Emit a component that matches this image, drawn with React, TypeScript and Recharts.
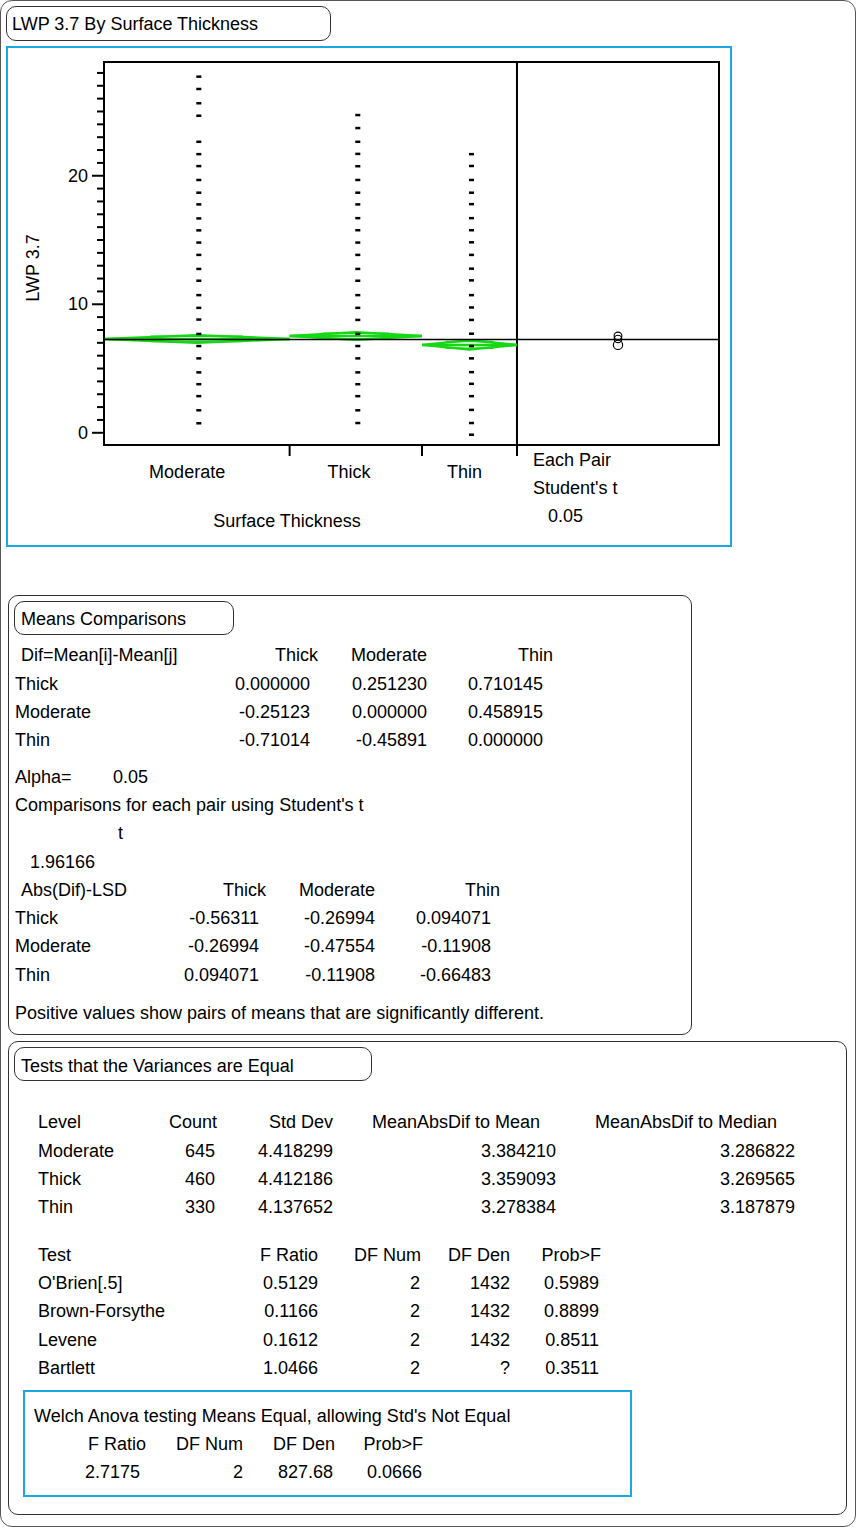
import React from 'react';
import { ComposedChart, XAxis, YAxis, Line, Scatter, ReferenceLine, ReferenceArea } from 'recharts';

// ---------- data ----------
const levels = ['Moderate', 'Thick', 'Thin'];
const counts = [645, 460, 330];
const means = [7.3, 7.53, 6.84];
const ciHalf = [0.29, 0.3, 0.36];

const moderateValues = [0.76, 1.77, 2.87, 3.8, 4.72, 5.81, 6.77, 7.71, 8.83, 9.74, 10.73, 11.85, 12.77, 13.86, 14.82, 15.77, 16.7, 17.79, 18.7, 19.69, 20.77, 21.7, 22.66, 24.69, 25.66, 26.77, 27.73];
const thickValues = [0.78, 1.77, 2.87, 3.8, 4.72, 5.81, 6.77, 7.71, 8.8, 9.74, 10.73, 11.85, 12.77, 13.86, 14.82, 15.78, 16.72, 17.79, 18.7, 19.69, 20.76, 21.72, 22.66, 23.73, 24.74];
const thinValues = [-0.13, 0.78, 1.8, 2.87, 3.83, 4.74, 5.81, 6.77, 7.73, 8.8, 9.77, 10.73, 11.88, 12.79, 13.86, 14.84, 15.78, 16.72, 17.81, 18.7, 19.69, 20.78, 21.7];
const levelValues = [moderateValues, thickValues, thinValues];

const yTicks = [0, 1, 2, 3, 4, 5, 6, 7, 8, 9, 10, 11, 12, 13, 14, 15, 16, 17, 18, 19, 20, 21, 22, 23, 24, 25, 26, 27, 28];
const yMajorTicks = [0, 10, 20];
const yDomain = [-0.95, 28.85];

// Means comparisons
const compOrder = ['Thick', 'Moderate', 'Thin'];
const difMatrix = [
  ['0.000000', '0.251230', '0.710145'],
  ['-0.25123', '0.000000', '0.458915'],
  ['-0.71014', '-0.45891', '0.000000'],
];
const lsdMatrix = [
  ['-0.56311', '-0.26994', '0.094071'],
  ['-0.26994', '-0.47554', '-0.11908'],
  ['0.094071', '-0.11908', '-0.66483'],
];

// Variance tests
const stdDevs = ['4.418299', '4.412186', '4.137652'];
const madMean = ['3.384210', '3.359093', '3.278384'];
const madMedian = ['3.286822', '3.269565', '3.187879'];
const testNames = ["O'Brien[.5]", 'Brown-Forsythe', 'Levene', 'Bartlett'];
const testF = ['0.5129', '0.1166', '0.1612', '1.0466'];
const testDfNum = ['2', '2', '2', '2'];
const testDfDen = ['1432', '1432', '1432', '?'];
const testProb = ['0.5989', '0.8899', '0.8511', '0.3511'];
const welchValues = ['2.7175', '2', '827.68', '0.0666'];

// ---------- derived ----------
const total = counts.reduce((a, b) => a + b, 0);
const starts = counts.map((_, i) => counts.slice(0, i).reduce((a, b) => a + b, 0));
const ends = counts.map((c, i) => starts[i] + c);
const centers = counts.map((c, i) => starts[i] + c / 2);
const COMP_PANEL = 702;
const xMax = total + COMP_PANEL;
const compCenter = total + COMP_PANEL / 2;
const grandMean = means.reduce((s, m, i) => s + m * counts[i], 0) / total;

const CHART_W = 857;
const CHART_H = 560;
const MARGIN = { top: 62, right: 138, left: 44, bottom: 85 };
const plotH = CHART_H - MARGIN.top - MARGIN.bottom - 30;
const pxPerUnit = plotH / (yDomain[1] - yDomain[0]);

const GREEN = '#14d814';
const FONT = '"Liberation Sans", Arial, Helvetica, sans-serif';

const xTicks = [...centers, ...ends];

const YTick = (props: any) => {
  const { x, y, payload } = props;
  const v = payload.value;
  const major = yMajorTicks.includes(v);
  const len = major ? 12 : 7;
  return (
    <g>
      <line x1={x - len} x2={x} y1={y} y2={y} stroke="#000" strokeWidth={2} />
      {major && (
        <text x={x - 16} y={y} dy={6} textAnchor="end" fontSize={18} fontFamily={FONT} fill="#000">
          {v}
        </text>
      )}
    </g>
  );
};

const XTick = (props: any) => {
  const { x, y, payload } = props;
  const v = payload.value;
  const ci = centers.indexOf(v);
  if (ci >= 0) {
    return (
      <text x={x - counts[ci] * 0.015} y={y + 33} textAnchor="middle" fontSize={18} fontFamily={FONT} fill="#000">
        {levels[ci]}
      </text>
    );
  }
  return <line x1={x} x2={x} y1={y} y2={y + 11} stroke="#000" strokeWidth={2} />;
};

const DashShape = (p: any) => <rect x={p.cx - 0.5} y={p.cy - 1} width={5} height={2.5} fill="#000" />;
const CircleShape = (p: any) => (
  <circle cx={p.cx} cy={p.cy} r={p.payload.r * pxPerUnit} fill="none" stroke="#000" strokeWidth={1.2} />
);

const Chart = () => {
  const diamonds = levels.map((_, i) => [
    { x: starts[i], y: means[i] },
    { x: centers[i], y: means[i] + ciHalf[i] },
    { x: ends[i], y: means[i] },
    { x: centers[i], y: means[i] - ciHalf[i] },
    { x: starts[i], y: means[i] },
  ]);
  const meanLines = levels.map((_, i) => [
    { x: starts[i], y: means[i] },
    { x: ends[i], y: means[i] },
  ]);
  const overlap = levels.map((_, i) => {
    const h = ciHalf[i] / Math.SQRT2;
    const w = counts[i] * 0.25;
    return [
      { x: centers[i] - w, y: means[i] + h },
      { x: centers[i] + w, y: means[i] + h },
      { x: centers[i], y: null },
      { x: centers[i] - w, y: means[i] - h },
      { x: centers[i] + w, y: means[i] - h },
    ];
  });
  const circles = levels.map((_, i) => ({ x: compCenter, y: means[i], r: ciHalf[i] }));

  return (
    <ComposedChart width={CHART_W} height={CHART_H} margin={MARGIN}>
      <XAxis
        type="number"
        dataKey="x"
        domain={[0, xMax]}
        ticks={xTicks}
        interval={0}
        tickSize={0}
        tickMargin={0}
        tickLine={false}
        tick={<XTick />}
        axisLine={{ stroke: '#000', strokeWidth: 2 }}
        height={30}
        allowDataOverflow
      />
      <YAxis
        type="number"
        dataKey="y"
        domain={yDomain}
        ticks={yTicks}
        interval={0}
        tickSize={0}
        tickMargin={0}
        tickLine={false}
        tick={<YTick />}
        axisLine={{ stroke: '#000', strokeWidth: 2 }}
        width={60}
        allowDataOverflow
      />
      <ReferenceArea x1={0} x2={xMax} y1={yDomain[0]} y2={yDomain[1]} fill="none" stroke="#000" strokeWidth={2} fillOpacity={0} />
      <ReferenceLine x={total} stroke="#000" strokeWidth={2} />
      {levels.map((l, i) => (
        <Scatter key={'pts' + l} data={levelValues[i].map((v) => ({ x: centers[i], y: v }))} dataKey="y" shape={<DashShape />} isAnimationActive={false} />
      ))}
      {levels.map((l, i) => (
        <Line key={'dia' + l} data={diamonds[i]} dataKey="y" stroke={GREEN} strokeWidth={2.5} dot={false} isAnimationActive={false} type="linear" />
      ))}
      {levels.map((l, i) => (
        <Line key={'ov' + l} data={overlap[i]} dataKey="y" stroke={GREEN} strokeWidth={1.5} dot={false} isAnimationActive={false} type="linear" connectNulls={false} />
      ))}
      {levels.map((l, i) => (
        <Line key={'mean' + l} data={meanLines[i]} dataKey="y" stroke={GREEN} strokeWidth={2.5} dot={false} isAnimationActive={false} type="linear" />
      ))}
      <ReferenceLine y={grandMean} stroke="#000" strokeWidth={1.5} />
      <Scatter data={circles} dataKey="y" shape={<CircleShape />} isAnimationActive={false} />
    </ComposedChart>
  );
};

// ---------- text helpers ----------
const T = ({ x, y, children, align = 'left' }: any) => {
  const style: any = { position: 'absolute', top: y - 10, lineHeight: '20px', fontSize: 18, whiteSpace: 'pre', color: '#000' };
  if (align === 'left') style.left = x;
  else if (align === 'right') {
    style.left = x - 400;
    style.width = 400;
    style.textAlign = 'right';
  } else {
    style.left = x - 200;
    style.width = 400;
    style.textAlign = 'center';
  }
  return <div style={style}>{children}</div>;
};

const Box = ({ x, y, w, h, r = 10, color = '#333', width = 1 }: any) => (
  <div
    style={{
      position: 'absolute',
      left: x,
      top: y,
      width: w,
      height: h,
      border: `${width}px solid ${color}`,
      borderRadius: r,
      boxSizing: 'border-box',
    }}
  />
);

export default function App() {
  const difRows = [684, 712, 740];
  const lsdRows = [918, 946, 975];
  const varRows = [1151, 1179, 1207];
  const testRows = [1283, 1311, 1340, 1368];
  return (
    <div style={{ position: 'absolute', left: 0, top: 0, width: 857, height: 1528, fontFamily: FONT, background: '#fff' }}>
      {/* outer frame */}
      <Box x={0} y={0} w={856} h={1527} r={12} color="#555" />

      {/* section 1 */}
      <Box x={6} y={6} w={325} h={35} r={10} color="#333" />
      <T x={12} y={24}>LWP 3.7 By Surface Thickness</T>
      <Box x={6} y={46} w={726} h={501} r={0} color="#1ba6e4" width={2} />
      <div style={{ position: 'absolute', left: 0, top: 0 }}>
        <Chart />
      </div>
      <div
        style={{
          position: 'absolute',
          left: 33 - 50,
          top: 268 - 10,
          width: 100,
          lineHeight: '20px',
          fontSize: 18,
          textAlign: 'center',
          transform: 'rotate(-90deg)',
        }}
      >
        LWP 3.7
      </div>
      <T x={287} y={521} align="center">Surface Thickness</T>
      <T x={533} y={460}>Each Pair</T>
      <T x={533} y={488}>Student's t</T>
      <T x={548} y={516}>0.05</T>

      {/* section 2 */}
      <Box x={8} y={595} w={684} h={440} r={10} color="#333" />
      <Box x={14} y={601} w={220} h={34} r={10} color="#333" />
      <T x={21} y={619}>Means Comparisons</T>
      <T x={21} y={655}>Dif=Mean[i]-Mean[j]</T>
      <T x={318} y={655} align="right">{compOrder[0]}</T>
      <T x={427} y={655} align="right">{compOrder[1]}</T>
      <T x={553} y={655} align="right">{compOrder[2]}</T>
      {compOrder.map((n, r) => (
        <React.Fragment key={'dif' + n}>
          <T x={15} y={difRows[r]}>{n}</T>
          <T x={310} y={difRows[r]} align="right">{difMatrix[r][0]}</T>
          <T x={427} y={difRows[r]} align="right">{difMatrix[r][1]}</T>
          <T x={543} y={difRows[r]} align="right">{difMatrix[r][2]}</T>
        </React.Fragment>
      ))}
      <T x={15} y={777}>Alpha=</T>
      <T x={113} y={777}>0.05</T>
      <T x={15} y={805}>Comparisons for each pair using Student's t</T>
      <T x={118} y={833}>t</T>
      <T x={30} y={862}>1.96166</T>
      <T x={21} y={890}>Abs(Dif)-LSD</T>
      <T x={266} y={890} align="right">{compOrder[0]}</T>
      <T x={375} y={890} align="right">{compOrder[1]}</T>
      <T x={500} y={890} align="right">{compOrder[2]}</T>
      {compOrder.map((n, r) => (
        <React.Fragment key={'lsd' + n}>
          <T x={15} y={lsdRows[r]}>{n}</T>
          <T x={259} y={lsdRows[r]} align="right">{lsdMatrix[r][0]}</T>
          <T x={375} y={lsdRows[r]} align="right">{lsdMatrix[r][1]}</T>
          <T x={491} y={lsdRows[r]} align="right">{lsdMatrix[r][2]}</T>
        </React.Fragment>
      ))}
      <T x={15} y={1013}>Positive values show pairs of means that are significantly different.</T>

      {/* section 3 */}
      <Box x={8} y={1041} w={839} h={474} r={10} color="#333" />
      <Box x={14} y={1047} w={358} h={34} r={10} color="#333" />
      <T x={21} y={1066}>Tests that the Variances are Equal</T>
      <T x={38} y={1122}>Level</T>
      <T x={217} y={1122} align="right">Count</T>
      <T x={333} y={1122} align="right">Std Dev</T>
      <T x={540} y={1122} align="right">MeanAbsDif to Mean</T>
      <T x={777} y={1122} align="right">MeanAbsDif to Median</T>
      {levels.map((l, r) => (
        <React.Fragment key={'var' + l}>
          <T x={38} y={varRows[r]}>{l}</T>
          <T x={215} y={varRows[r]} align="right">{String(counts[r])}</T>
          <T x={333} y={varRows[r]} align="right">{stdDevs[r]}</T>
          <T x={556} y={varRows[r]} align="right">{madMean[r]}</T>
          <T x={795} y={varRows[r]} align="right">{madMedian[r]}</T>
        </React.Fragment>
      ))}
      <T x={38} y={1255}>Test</T>
      <T x={318} y={1255} align="right">F Ratio</T>
      <T x={421} y={1255} align="right">DF Num</T>
      <T x={510} y={1255} align="right">DF Den</T>
      <T x={601} y={1255} align="right">Prob&gt;F</T>
      {testNames.map((n, r) => (
        <React.Fragment key={'test' + n}>
          <T x={38} y={testRows[r]}>{n}</T>
          <T x={318} y={testRows[r]} align="right">{testF[r]}</T>
          <T x={420} y={testRows[r]} align="right">{testDfNum[r]}</T>
          <T x={510} y={testRows[r]} align="right">{testDfDen[r]}</T>
          <T x={599} y={testRows[r]} align="right">{testProb[r]}</T>
        </React.Fragment>
      ))}
      <Box x={23} y={1390} w={609} h={107} r={0} color="#1ba6e4" width={2} />
      <T x={34} y={1416}>Welch Anova testing Means Equal, allowing Std's Not Equal</T>
      <T x={146} y={1444} align="right">F Ratio</T>
      <T x={243} y={1444} align="right">DF Num</T>
      <T x={335} y={1444} align="right">DF Den</T>
      <T x={423} y={1444} align="right">Prob&gt;F</T>
      <T x={140} y={1472} align="right">{welchValues[0]}</T>
      <T x={243} y={1472} align="right">{welchValues[1]}</T>
      <T x={333} y={1472} align="right">{welchValues[2]}</T>
      <T x={422} y={1472} align="right">{welchValues[3]}</T>
    </div>
  );
}
